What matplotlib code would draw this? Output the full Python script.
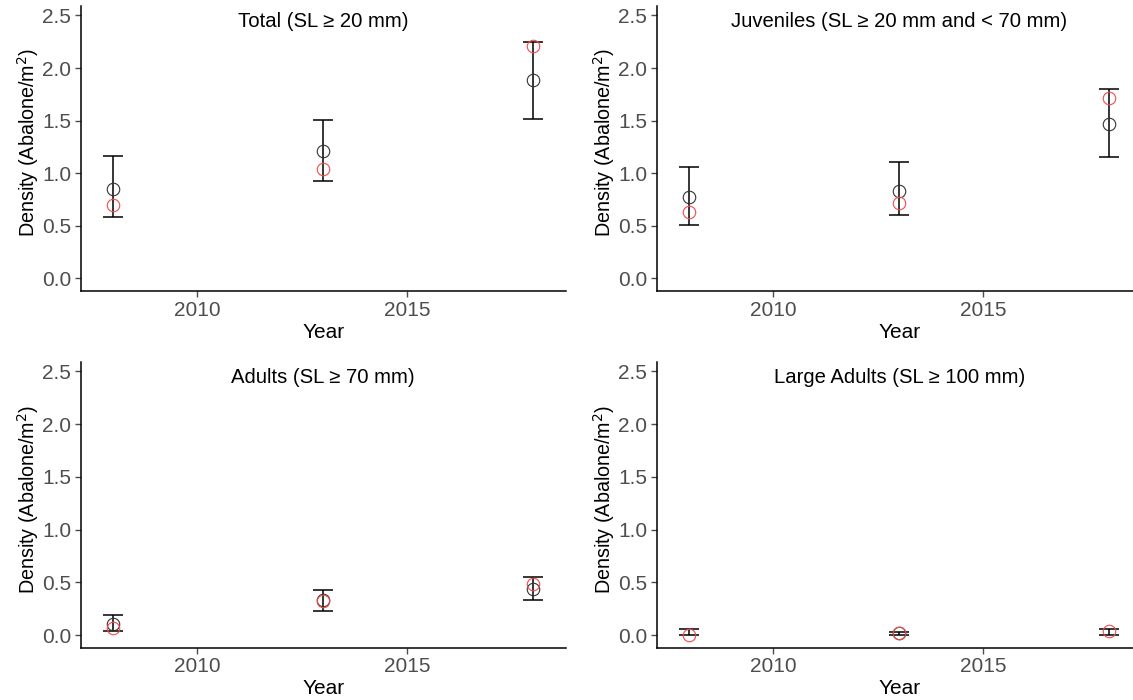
import numpy as np
import matplotlib
matplotlib.use("Agg")
import matplotlib.pyplot as plt

plt.rcParams['font.family'] = ['Liberation Sans', 'DejaVu Sans']

years = [2008, 2013, 2018]
titles = ["Total (SL \u2265 20 mm)",
          "Juveniles (SL \u2265 20 mm and < 70 mm)",
          "Adults (SL \u2265 70 mm)",
          "Large Adults (SL \u2265 100 mm)"]

# mean density (black) with error bar limits, and comparison estimate (red)
total_mean = [0.85, 1.21, 1.89]
total_low = [0.58, 0.93, 1.52]
total_high = [1.16, 1.51, 2.25]
total_alt = [0.70, 1.04, 2.21]

juv_mean = [0.77, 0.835, 1.47]
juv_low = [0.51, 0.60, 1.15]
juv_high = [1.06, 1.105, 1.80]
juv_alt = [0.63, 0.72, 1.715]

adult_mean = [0.105, 0.33, 0.44]
adult_low = [0.04, 0.23, 0.335]
adult_high = [0.19, 0.425, 0.555]
adult_alt = [0.07, 0.32, 0.485]

large_mean = [np.nan, 0.015, np.nan]
large_low = [0.003, 0.005, 0.003]
large_high = [0.058, 0.025, 0.058]
large_alt = [0.0, 0.015, 0.04]

panels = [
    (total_mean, total_low, total_high, total_alt),
    (juv_mean, juv_low, juv_high, juv_alt),
    (adult_mean, adult_low, adult_high, adult_alt),
    (large_mean, large_low, large_high, large_alt),
]

W, H = 1133, 700
fig = plt.figure(figsize=(W / 100, H / 100), dpi=100)

# axes rectangles in pixels: left, right, top, bottom
rects = [
    (81, 565.5, 6, 291),
    (657, 1141.5, 6, 291),
    (81, 565.5, 362, 647.7),
    (657, 1141.5, 362, 647.7),
]

tick_gray = "#4D4D4D"
for (l, r, t, b), title, (mean, low, high, alt) in zip(rects, titles, panels):
    ax = fig.add_axes([l / W, (H - b) / H, (r - l) / W, (b - t) / H])
    ax.set_xlim(2007.23, 2018.77)
    ax.set_ylim(-0.12, 2.59)
    for s in ("top", "right"):
        ax.spines[s].set_visible(False)
    for s in ("left", "bottom"):
        ax.spines[s].set_linewidth(1.1)
        ax.spines[s].set_color("black")
    ax.set_xticks([2010, 2015])
    ax.set_yticks([0.0, 0.5, 1.0, 1.5, 2.0, 2.5])
    ax.set_yticklabels(["0.0", "0.5", "1.0", "1.5", "2.0", "2.5"])
    ax.tick_params(axis="both", colors=tick_gray, labelcolor=tick_gray,
                   labelsize=15, length=4, width=1.0, pad=3)

    mean_a = np.array(mean, dtype=float)
    low_a = np.array(low)
    high_a = np.array(high)
    centre = (low_a + high_a) / 2
    ax.errorbar(years, centre, yerr=[centre - low_a, high_a - centre],
                fmt="none", ecolor="black", elinewidth=1.1, capsize=7.2,
                capthick=1.1, zorder=2)
    ax.plot(years, mean_a, linestyle="none", marker="o", markersize=9,
            markerfacecolor="none", markeredgecolor="#333333",
            markeredgewidth=0.8, zorder=3)
    ax.plot(years, alt, linestyle="none", marker="o", markersize=9,
            markerfacecolor="none", markeredgecolor="#F24B4B",
            markeredgewidth=0.8, zorder=4)

    ax.text(0.5, 0.947, title, transform=ax.transAxes, ha="center",
            va="center", fontsize=14.6, color="black")
    ax.set_xlabel("Year", fontsize=15, color="black", labelpad=2)
    ax.set_ylabel("Density (Abalone/m$^2$)", fontsize=14.2, color="black",
                  labelpad=0.5)
    ax.yaxis.label.set_y(0.52)

fig.savefig("out.png", dpi=100)
